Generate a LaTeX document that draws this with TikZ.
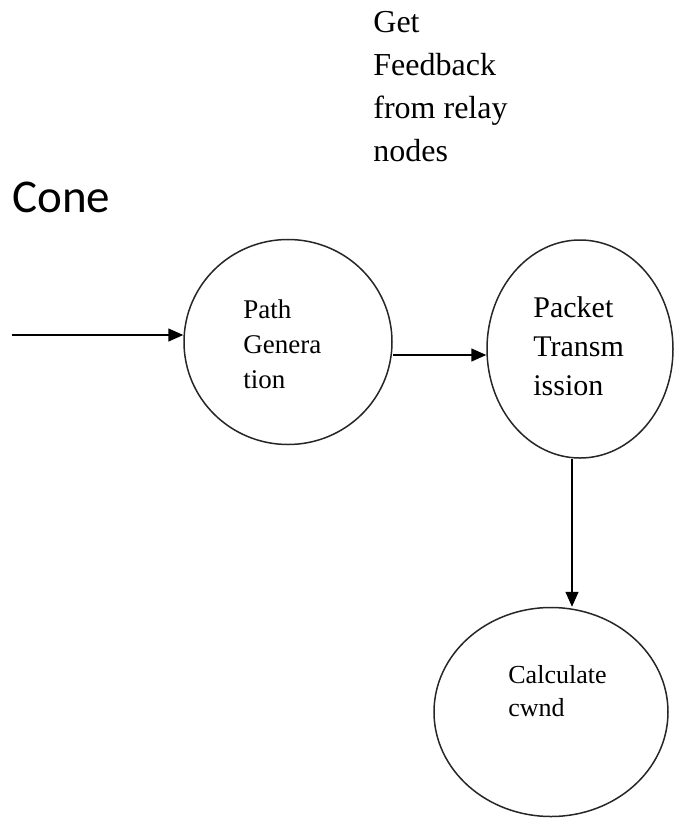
\documentclass[tikz,border=0pt]{standalone}
\usepackage{fontspec}
\setmainfont{Liberation Serif}
\newfontfamily\conefont{Carlito}
\usetikzlibrary{shapes.geometric,arrows.meta}

\tikzset{
  proc/.style={ellipse, draw=black!85, line width=0.75pt, inner sep=0pt},
  arr/.style={draw=black, line width=0.75pt, -{Triangle[length=7.5pt,width=6.5pt]}},
  lbl/.style={anchor=north west, inner sep=0pt, align=left}
}

\begin{document}
\begin{tikzpicture}[x=0.5pt, y=-0.5pt]
      \useasboundingbox (0,0) rectangle (681,820);
      %
      \node[proc, minimum width=104pt, minimum height=102.5pt] (path) at (288,342) {};   % first circle
      \node[lbl, font=\fontsize{13.5}{17.5}\selectfont] (pathtxt) at (243,299) {Path\\Genera\\tion};
      %
      \node[proc, minimum width=93pt, minimum height=109pt] (packet) at (580,349) {};   % second circle
      \node[lbl, font=\fontsize{15}{19.5}\selectfont] (packettxt) at (533,296) {Packet\\Transm\\ission};
      %
      \node[proc, minimum width=117pt, minimum height=104.5pt] (calc) at (551,712) {};   % bottom circle
      \node[lbl, font=\fontsize{13}{16.5}\selectfont] (calctxt) at (508,665) {Calculate\\cwnd};
      %
      \node[lbl, font=\fontsize{16}{21.5}\selectfont] (feedback) at (373,11) {Get\\Feedback\\from relay\\nodes};
      \node[lbl, font=\conefont\fontsize{23.5}{28}\selectfont] (cone) at (12,182) {Cone};
      %
      \coordinate (start) at (12,335);
      \draw[arr] (start) -- (path.west |- start);
      \draw[arr] ([yshift=-6.5pt]path.east) -- ([yshift=-3pt]packet.west);
      \draw[arr] ([xshift=-4pt]packet.south) coordinate (down) -- (down |- calc.north);
      %
\end{tikzpicture}
\end{document}
